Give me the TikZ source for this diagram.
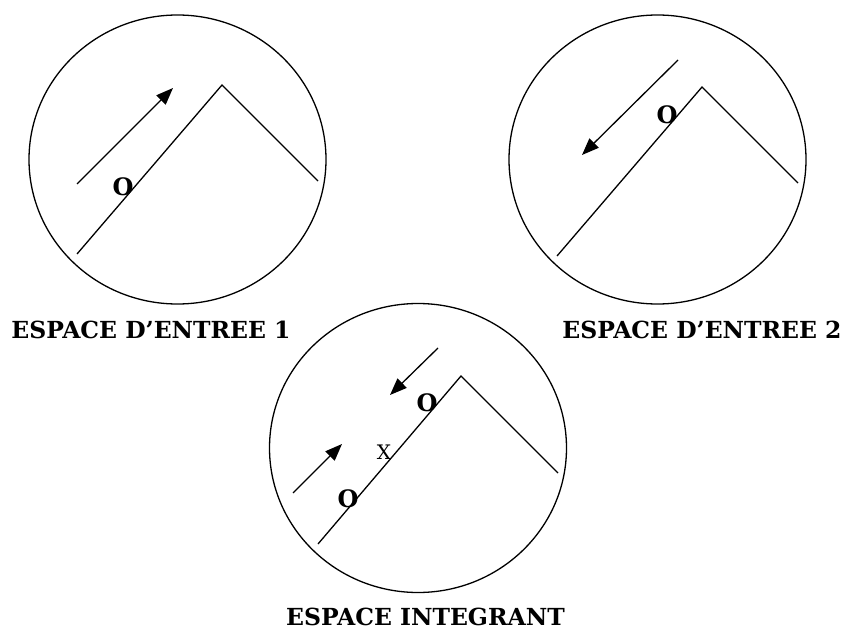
\documentclass[tikz,border=0pt]{standalone}
\usepackage{fontspec}
\setmainfont{DejaVu Serif}
\usetikzlibrary{shapes.geometric,arrows.meta}
\tikzset{
  disc/.style={draw, ellipse, line width=1.3pt, minimum width=297pt, minimum height=289pt, inner sep=0pt},
  ridge/.style={line width=1.3pt},
  flow/.style={line width=1.3pt, -{Triangle[length=17pt,width=13pt]}},
  title/.style={font=\bfseries\fontsize{23.5}{25}\selectfont, inner sep=0pt, text depth=0pt, anchor=base},
  mark0/.style={font=\bfseries\fontsize{24}{26}\selectfont, inner sep=0pt},
  markx/.style={font=\fontsize{20}{22}\selectfont, inner sep=0pt}
}
\begin{document}
\begin{tikzpicture}[x=1pt,y=-1pt]
\useasboundingbox (0,0) rectangle (846,631);
% circle 1
\node[disc] (c1) at (177.5,159.5) {};
\coordinate (a1) at (77,254);
\coordinate (p1) at (222,85);
\coordinate (b1) at (318,181);
\draw[ridge] (a1) -- (p1) -- (b1);
\coordinate (s1) at (77,184);
\coordinate (t1) at (173,88);
\draw[flow] (s1) -- (t1);
\node[mark0] (o1) at (123,187) {O};
\node[title] (l1) at (151,338) {ESPACE D’ENTREE 1};
% circle 2
\node[disc] (c2) at (657.5,159.5) {};
\coordinate (a2) at (557,256);
\coordinate (p2) at (702,87);
\coordinate (b2) at (798,183);
\draw[ridge] (a2) -- (p2) -- (b2);
\coordinate (s2) at (678,60);
\coordinate (t2) at (582,155);
\draw[flow] (s2) -- (t2);
\node[mark0] (o2) at (667,115) {O};
\node[title] (l2) at (702,338) {ESPACE D’ENTREE 2};
% circle 3
\node[disc] (c3) at (418,448) {};
\coordinate (a3) at (318,544);
\coordinate (p3) at (461,376);
\coordinate (b3) at (558,473);
\draw[ridge] (a3) -- (p3) -- (b3);
\coordinate (s3) at (438,348);
\coordinate (t3) at (390,395);
\draw[flow] (s3) -- (t3);
\coordinate (s4) at (293,493);
\coordinate (t4) at (342,444);
\draw[flow] (s4) -- (t4);
\node[mark0] (o3) at (427,403) {O};
\node[markx] (x3) at (384,452) {X};
\node[mark0] (o4) at (348,499) {O};
\node[title] (l3) at (425.5,625) {ESPACE INTEGRANT};
\end{tikzpicture}
\end{document}
